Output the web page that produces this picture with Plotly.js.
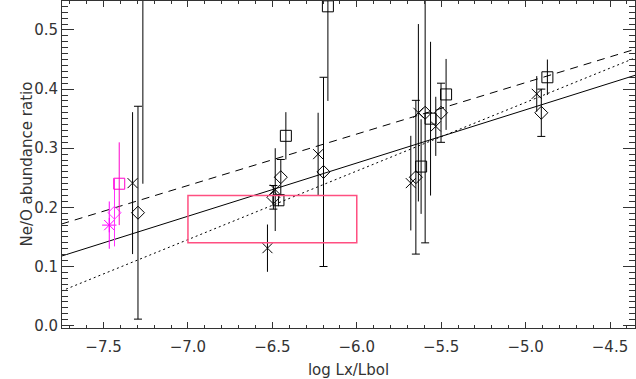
<!DOCTYPE html>
<html>
<head>
<meta charset="utf-8">
<script src="https://cdn.plot.ly/plotly-3.0.1.min.js"></script>
<style>
  html, body { margin: 0; padding: 0; background: #fff; }
  #chart { width: 636px; height: 379px; }
</style>
</head>
<body>
<div id="chart"></div>
<script>
// Ne/O abundance ratio vs log Lx/Lbol

// black asterisks
const starX = [-7.328, -6.229, -6.483, -6.529, -5.680, -5.635, -5.532, -4.934];
const starY = [0.241, 0.290, 0.230, 0.131, 0.241, 0.360, 0.337, 0.392];
const starErr = [0.12, 0.07, 0.07, 0.04, 0.08, 0.15, 0.05, 0.03];

// black diamonds
const diaX = [-7.296, -6.197, -6.450, -6.494, -5.650, -5.595, -5.501, -4.907];
const diaY = [0.191, 0.260, 0.251, 0.217, 0.251, 0.360, 0.360, 0.360];
const diaErr = [0.18, 0.16, 0.03, 0.02, 0.13, 0.22, 0.05, 0.04];

// black squares (first one lies above the plotted range)
const sqX = [-7.267, -6.420, -6.171, -6.464, -5.619, -5.563, -5.471, -4.871];
const sqY = [0.62, 0.321, 0.540, 0.212, 0.269, 0.350, 0.391, 0.420];
const sqErr = [0.38, 0.04, 0.16, 0.01, 0.08, 0.13, 0.06, 0.03];

// magenta points
const magStarX = [-7.466], magStarY = [0.170], magStarErr = [0.04];
const magDiaX = [-7.435], magDiaY = [0.191], magDiaErr = [0.057];
const magSqX = [-7.407], magSqY = [0.240], magSqErr = [0.07];

// fitted relations: y = a + b*x
const fitNames = ["solid", "dashed", "dotted"];
const fitA = [0.815, 0.846, 0.9575];
const fitB = [0.090, 0.087, 0.116];
const fitX = [-7.75, -4.35];

// box
const boxX = [-7.0, -6.0];
const boxY = [0.14, 0.22];

const xTicks = [-7.5, -7.0, -6.5, -6.0, -5.5, -5.0, -4.5];
const yTicks = [0.0, 0.1, 0.2, 0.3, 0.4, 0.5];

function pts(x, y, err, symbol, size, color, cap) {
  return {
    x: x, y: y, type: "scatter", mode: "markers",
    marker: { symbol: symbol, size: size, color: color, line: { width: 1, color: color } },
    error_y: { type: "data", array: err, visible: true, color: color, thickness: 1, width: cap },
    showlegend: false, hoverinfo: "x+y"
  };
}

const dashes = ["solid", "8px,6px", "2px,3px"];
const fitTraces = fitNames.map((n, i) => ({
  x: fitX,
  y: fitX.map(v => fitA[i] + fitB[i] * v),
  type: "scatter", mode: "lines", name: n,
  line: { color: "#000", width: 1, dash: dashes[i] },
  showlegend: false, hoverinfo: "skip"
}));

const traces = [
  ...fitTraces,
  pts(starX, starY, starErr, "x-thin-open", 10, "#000", 0),
  pts(diaX, diaY, diaErr, "diamond-open", 10, "#000", 4),
  pts(sqX, sqY, sqErr, "square-open", 11, "#000", 0),
  pts(magStarX, magStarY, magStarErr, "asterisk-open", 12, "#ff00ff", 0),
  pts(magDiaX, magDiaY, magDiaErr, "diamond-open", 10, "#ff33ff", 0),
  pts(magSqX, magSqY, magSqErr, "square-open", 11, "#ff00cc", 0)
];

const font = { family: "DejaVu Sans, sans-serif", size: 15, color: "#333" };

Plotly.newPlot("chart", traces, {
  width: 636, height: 379,
  margin: { l: 62, r: 1, t: 1, b: 51 },
  paper_bgcolor: "#fff", plot_bgcolor: "#fff",
  font: font,
  xaxis: {
    range: [-7.746, -4.352],
    tickvals: xTicks, tickformat: ".1f",
    ticks: "inside", ticklen: 6, tickcolor: "#333",
    ticklabelstandoff: 5,
    minor: { dtick: 0.1, tick0: -7.5, ticks: "inside", ticklen: 3, tickcolor: "#333" },
    showline: true, linecolor: "#333", linewidth: 1, mirror: "allticks",
    showgrid: false, zeroline: false,
    title: { text: "log Lx/Lbol", font: font, standoff: 12 }
  },
  yaxis: {
    range: [-0.004, 0.549],
    tickvals: yTicks, tickformat: ".1f",
    ticks: "inside", ticklen: 12, tickcolor: "#333",
    minor: { dtick: 0.01, tick0: 0, ticks: "inside", ticklen: 6, tickcolor: "#333" },
    showline: true, linecolor: "#333", linewidth: 1, mirror: "allticks",
    showgrid: false, zeroline: false
  },
  annotations: [{
    text: "Ne/O abundance ratio", textangle: -90, font: font,
    xref: "paper", yref: "paper", x: 0, y: 0.5,
    xanchor: "center", yanchor: "middle", xshift: -36, showarrow: false
  }],
  shapes: [{
    type: "rect", xref: "x", yref: "y",
    x0: boxX[0], x1: boxX[1], y0: boxY[0], y1: boxY[1],
    line: { color: "#ff4f81", width: 1.5 }
  }]
}, { displayModeBar: false, staticPlot: true });
</script>
</body>
</html>
